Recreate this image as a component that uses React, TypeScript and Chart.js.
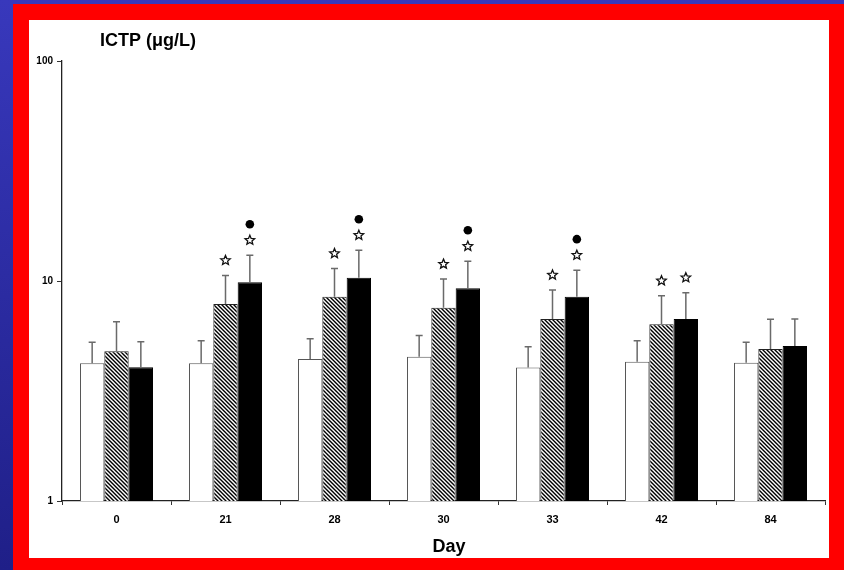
import React, { useEffect, useRef } from 'react';
import { Chart, registerables } from 'chart.js';
Chart.register(...registerables);

const days = ['0', '21', '28', '30', '33', '42', '84'];
const yTickValues = [1, 10, 100];

const controlMean = [4.23, 4.23, 4.42, 4.53, 4.04, 4.3, 4.25];
const controlUpper = [5.27, 5.35, 5.47, 5.66, 5.03, 5.35, 5.27];
const hatchedMean = [4.8, 7.86, 8.48, 7.56, 6.72, 6.36, 4.91];
const hatchedUpper = [6.53, 10.6, 11.4, 10.2, 9.1, 8.57, 6.7];
const blackMean = [4.05, 9.86, 10.35, 9.27, 8.48, 6.72, 5.07];
const blackUpper = [5.3, 13.1, 13.8, 12.3, 11.2, 8.85, 6.72];

const hatchedStar = [false, true, true, true, true, true, false];
const blackStar = [false, true, true, true, true, true, false];
const blackDot = [false, true, true, true, true, false, false];

const FONT = '"Liberation Sans", Arial, sans-serif';

function drawStar(ctx: CanvasRenderingContext2D, x: number, y: number, r: number) {
  ctx.beginPath();
  for (let i = 0; i < 10; i++) {
    const rad = i % 2 === 0 ? r : r * 0.45;
    const a = -Math.PI / 2 + (i * Math.PI) / 5;
    const px = x + rad * Math.cos(a);
    const py = y + rad * Math.sin(a);
    if (i === 0) ctx.moveTo(px, py);
    else ctx.lineTo(px, py);
  }
  ctx.closePath();
  ctx.fillStyle = '#fff';
  ctx.fill();
  ctx.strokeStyle = '#111';
  ctx.lineWidth = 1.3;
  ctx.stroke();
}

export default function App() {
  const ref = useRef<HTMLCanvasElement>(null);

  useEffect(() => {
    const canvas = ref.current!;
    const ctx = canvas.getContext('2d')!;
    const pc = document.createElement('canvas');
    pc.width = 4;
    pc.height = 4;
    const p = pc.getContext('2d')!;
    p.fillStyle = '#fff';
    p.fillRect(0, 0, 4, 4);
    p.strokeStyle = '#000';
    p.lineWidth = 1.4;
    p.beginPath();
    p.moveTo(-1, -1); p.lineTo(5, 5);
    p.moveTo(-1, 3); p.lineTo(1, 5);
    p.moveTo(3, -1); p.lineTo(5, 1);
    p.stroke();
    const pattern = ctx.createPattern(pc, 'repeat')!;

    const uppers = [controlUpper, hatchedUpper, blackUpper];

    const overlay = {
      id: 'overlay',
      afterDatasetsDraw(chart: any) {
        const c = chart.ctx as CanvasRenderingContext2D;
        const y = chart.scales.y;
        c.save();
        // error bars
        for (let d = 0; d < 3; d++) {
          const meta = chart.getDatasetMeta(d);
          meta.data.forEach((bar: any, i: number) => {
            const top = y.getPixelForValue(uppers[d][i]);
            c.strokeStyle = '#6a6a6a';
            c.lineWidth = 1.5;
            c.beginPath();
            c.moveTo(bar.x, bar.y);
            c.lineTo(bar.x, top);
            c.moveTo(bar.x - 3.5, top);
            c.lineTo(bar.x + 3.5, top);
            c.stroke();
          });
        }
        // markers
        const mH = chart.getDatasetMeta(1);
        const mB = chart.getDatasetMeta(2);
        days.forEach((_, i) => {
          if (hatchedStar[i]) {
            const top = y.getPixelForValue(hatchedUpper[i]);
            drawStar(c, mH.data[i].x, top - 15, 5);
          }
          const topB = y.getPixelForValue(blackUpper[i]);
          if (blackStar[i]) drawStar(c, mB.data[i].x, topB - 15, 5);
          if (blackDot[i]) {
            c.beginPath();
            c.arc(mB.data[i].x, topB - 31, 4.3, 0, Math.PI * 2);
            c.fillStyle = '#000';
            c.fill();
          }
        });
        // titles
        c.fillStyle = '#000';
        c.textBaseline = 'alphabetic';
        c.textAlign = 'left';
        c.font = `bold 18px ${FONT}`;
        c.fillText('ICTP (\u03bcg/L)', 71, 26);
        c.textAlign = 'center';
        c.font = `bold 18px ${FONT}`;
        c.fillText('Day', 420, 532);
        c.restore();
      },
    };

    const chart = new Chart(canvas, {
      type: 'bar',
      data: {
        labels: days,
        datasets: [
          { label: 'control', data: controlMean, backgroundColor: '#fff', borderColor: '#555', borderWidth: 1 },
          { label: 'hatched', data: hatchedMean, backgroundColor: pattern as any, borderColor: '#222', borderWidth: 1 },
          { label: 'black', data: blackMean, backgroundColor: '#000', borderColor: '#000', borderWidth: 1 },
        ],
      },
      options: {
        responsive: false,
        animation: false,
        devicePixelRatio: 1,
        layout: { padding: { left: 0, right: 4, top: 41, bottom: 0 } },
        plugins: { legend: { display: false }, tooltip: { enabled: false }, title: { display: false } },
        datasets: { bar: { categoryPercentage: 0.67, barPercentage: 1 } },
        scales: {
          x: {
            type: 'category',
            grid: { display: true, drawOnChartArea: false, drawTicks: true, tickLength: 4, color: '#333', offset: true },
            border: { display: true, color: '#222', width: 1.3 },
            ticks: { color: '#000', font: { family: FONT, size: 11, weight: 'bold' }, padding: 8 },
            afterFit: (s: any) => { s.height = 57; },
          },
          y: {
            type: 'logarithmic',
            min: 1,
            max: 100,
            grid: { display: true, drawOnChartArea: false, drawTicks: true, tickLength: 5, color: '#333' },
            border: { display: true, color: '#222', width: 1.3 },
            ticks: {
              color: '#000',
              font: { family: FONT, size: 10, weight: 'bold' },
              padding: 4,
              callback: (v: any) => String(v),
            },
            afterBuildTicks: (s: any) => { s.ticks = yTickValues.map((v) => ({ value: v, major: true })); },
            afterFit: (s: any) => { s.width = 33; },
          },
        },
      },
      plugins: [overlay],
    } as any);
    return () => chart.destroy();
  }, []);

  return (
    <div style={{ position: 'fixed', left: 0, top: 0, width: 844, height: 570, background: 'linear-gradient(#3838bc, #1f1f88)' }}>
      <div style={{ position: 'absolute', left: 13, top: 4, width: 831, height: 566, background: '#ff0000' }} />
      <div style={{ position: 'absolute', left: 29, top: 20, width: 800, height: 538, background: '#fff' }}>
        <canvas ref={ref} width={800} height={538} style={{ display: 'block', width: 800, height: 538 }} />
      </div>
    </div>
  );
}
